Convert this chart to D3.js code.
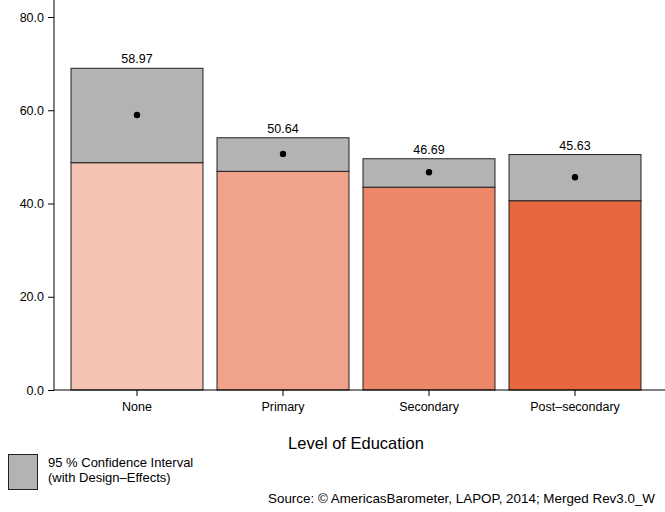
<!DOCTYPE html>
<html>
<head>
<meta charset="utf-8">
<script src="https://cdn.jsdelivr.net/npm/d3@7/dist/d3.min.js"></script>
<style>
  html, body { margin: 0; padding: 0; background: #fff; }
  svg { display: block; font-family: "Liberation Sans", Arial, Helvetica, sans-serif; }
</style>
</head>
<body>
<svg id="chart" width="665" height="512"></svg>
<script>
// Education levels and their estimates with 95% confidence bounds
const categories = ["None", "Primary", "Secondary", "Post\u2013secondary"];
const means = [58.97, 50.64, 46.69, 45.63];
const lowerCI = [48.75, 46.9, 43.5, 40.6];
const upperCI = [69.0, 54.1, 49.6, 50.5];
const barColors = ["#F5C3B2", "#F0A38A", "#EC8869", "#E6673E"];
const yTicks = [0, 20, 40, 60, 80];

const svg = d3.select("#chart");
const axisX = 54, baseY = 390;

const x = d3.scaleBand()
  .domain(categories)
  .range([64, 648])
  .paddingInner(0.096)
  .paddingOuter(0.048);

const y = d3.scaleLinear()
  .domain([0, 80])
  .range([baseY, 17]);

const rows = categories.map((c, i) => ({
  cat: c, mean: means[i], lo: lowerCI[i], hi: upperCI[i], color: barColors[i]
}));

// Coloured bars up to the lower bound
svg.append("g").selectAll("rect").data(rows).join("rect")
  .attr("x", d => x(d.cat))
  .attr("y", d => y(d.lo))
  .attr("width", x.bandwidth())
  .attr("height", d => y(0) - y(d.lo))
  .attr("fill", d => d.color)
  .attr("stroke", "#222")
  .attr("stroke-width", 1);

// Grey confidence band between lower and upper bound
svg.append("g").selectAll("rect").data(rows).join("rect")
  .attr("x", d => x(d.cat))
  .attr("y", d => y(d.hi))
  .attr("width", x.bandwidth())
  .attr("height", d => y(d.lo) - y(d.hi))
  .attr("fill", "#B3B3B3")
  .attr("stroke", "#222")
  .attr("stroke-width", 1);

// Point estimates
svg.append("g").selectAll("circle").data(rows).join("circle")
  .attr("cx", d => x(d.cat) + x.bandwidth() / 2)
  .attr("cy", d => y(d.mean))
  .attr("r", 3.2)
  .attr("fill", "#000");

// Value labels above each bar
svg.append("g").selectAll("text").data(rows).join("text")
  .attr("x", d => x(d.cat) + x.bandwidth() / 2)
  .attr("y", d => y(d.hi) - 5)
  .attr("text-anchor", "middle")
  .attr("font-size", 12.5)
  .attr("fill", "#000")
  .text(d => d.mean.toFixed(2));

// Y axis
const yAxis = svg.append("g")
  .attr("transform", `translate(${axisX},0)`)
  .call(d3.axisLeft(y).tickValues(yTicks).tickFormat(d3.format(".1f")).tickSize(6).tickSizeOuter(0).tickPadding(4));
yAxis.select(".domain").remove();
yAxis.selectAll("line").attr("stroke", "#000");
yAxis.selectAll("text").attr("font-size", 12.5).attr("fill", "#000").attr("font-family", null);
svg.append("line")
  .attr("x1", axisX).attr("x2", axisX)
  .attr("y1", 0).attr("y2", baseY)
  .attr("stroke", "#000");

// X axis
const xAxis = svg.append("g")
  .attr("transform", `translate(0,${baseY})`)
  .call(d3.axisBottom(x).tickSize(6).tickSizeOuter(0).tickPadding(6));
xAxis.select(".domain").remove();
xAxis.selectAll("line").attr("stroke", "#000");
xAxis.selectAll("text").attr("font-size", 12.5).attr("fill", "#000").attr("font-family", null);
svg.append("line")
  .attr("x1", axisX).attr("x2", 665)
  .attr("y1", baseY).attr("y2", baseY)
  .attr("stroke", "#000");

// Axis title
svg.append("text")
  .attr("x", 356).attr("y", 449)
  .attr("text-anchor", "middle")
  .attr("font-size", 16.5)
  .text("Level of Education");

// Legend
svg.append("rect")
  .attr("x", 8.5).attr("y", 454.5)
  .attr("width", 29).attr("height", 35)
  .attr("fill", "#B3B3B3").attr("stroke", "#222");
svg.append("text").attr("x", 48).attr("y", 467).attr("font-size", 13).text("95 % Confidence Interval");
svg.append("text").attr("x", 48).attr("y", 482).attr("font-size", 13).text("(with Design\u2013Effects)");

// Source note
svg.append("text")
  .attr("x", 655).attr("y", 503)
  .attr("text-anchor", "end")
  .attr("font-size", 13.4)
  .text("Source: \u00A9 AmericasBarometer, LAPOP, 2014; Merged Rev3.0_W");
</script>
</body>
</html>
